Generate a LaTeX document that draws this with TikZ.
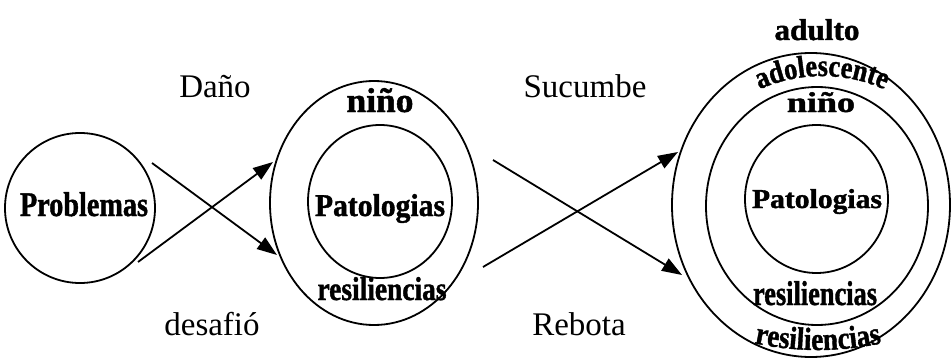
\documentclass[tikz,border=0pt]{standalone}
\usepackage{fontspec}
\setmainfont{Liberation Serif}
\newfontfamily\hv[FakeStretch=0.85,FakeBold=1.2]{Liberation Serif}
\usepackage{graphicx}
\usetikzlibrary{arrows.meta,shapes.geometric,decorations.text}
\newcommand\bw[3]{\resizebox{#1}{#2}{\hv\bfseries\fontsize{24}{28}\selectfont #3}}
\tikzset{
  ring/.style={draw, ellipse, line width=1.8pt, inner sep=0pt},
  lbl/.style={inner sep=0pt, anchor=base, font=\fontsize{33}{38}\selectfont},
  btxt/.style={inner sep=0pt, anchor=base},
  arr/.style={line width=1.8pt, -{Triangle[length=20pt,width=14pt]}},
}
\begin{document}
\begin{tikzpicture}[x=1pt,y=1pt]
\useasboundingbox (0,0) rectangle (951,357);
% circles
\node[ring, minimum width=150pt, minimum height=150pt] (prob) at (80,149) {};
\node[ring, minimum width=208pt, minimum height=244pt] (mout) at (374,154) {};
\node[ring, minimum width=144pt, minimum height=153pt] (min) at (380,155.5) {};
\node[ring, minimum width=278pt, minimum height=304pt] (rout) at (811,152) {};
\node[ring, minimum width=222pt, minimum height=238pt] (rmid) at (817,151) {};
\node[ring, minimum width=143pt, minimum height=148pt] (rin) at (816.5,158) {};
% texts in circles
\node[btxt] (tprob) at (84,141) {\bw{128pt}{24pt}{Problemas}};
\node[btxt] (tpat1) at (380,141) {\bw{130pt}{22pt}{Patologias}};
\node[btxt] (tnin1) at (380,245) {\bw{67pt}{24pt}{niño}};
\node[btxt] (tres1) at (382,57) {\bw{129pt}{23pt}{resiliencias}};
\node[btxt] (tadu) at (817,317) {\bw{85pt}{21pt}{adulto}};
\node[btxt] (tnin2) at (821,245) {\bw{68pt}{20pt}{niño}};
\node[btxt] (tpat2) at (817,149) {\bw{130pt}{19pt}{Patologias}};
\node[btxt] (tres2) at (815,52) {\bw{124pt}{24pt}{resiliencias}};
\path[decorate, decoration={text along path, text align=center,
  text={|\hv\bfseries\fontsize{31}{36}\selectfont|adolescente}}]
  (822,129) ++(122:152) arc[start angle=122, end angle=58, radius=152];
\path[decorate, decoration={text along path, text align=center,
  text={|\hv\bfseries\fontsize{32}{36}\selectfont|resiliencias}}]
  (818,310) ++(255:303) arc[start angle=255, end angle=285, radius=303];
% labels
\node[lbl] (dano) at (215,260) {Daño};
\node[lbl] (desa) at (212,22) {desafió};
\node[lbl] (sucu) at (585,259) {Sucumbe};
\node[lbl] (rebo) at (579,22) {Rebota};
% arrows
\coordinate (a1s) at (152,194); \coordinate (a1e) at (277,102);
\coordinate (a2s) at (138,95);  \coordinate (a2e) at (273,195);
\coordinate (a3s) at (493,197); \coordinate (a3e) at (682,82);
\coordinate (a4s) at (483,90);  \coordinate (a4e) at (678,205);
\draw[arr] (a1s) -- (a1e);
\draw[arr] (a2s) -- (a2e);
\draw[arr] (a3s) -- (a3e);
\draw[arr] (a4s) -- (a4e);
\end{tikzpicture}
\end{document}
